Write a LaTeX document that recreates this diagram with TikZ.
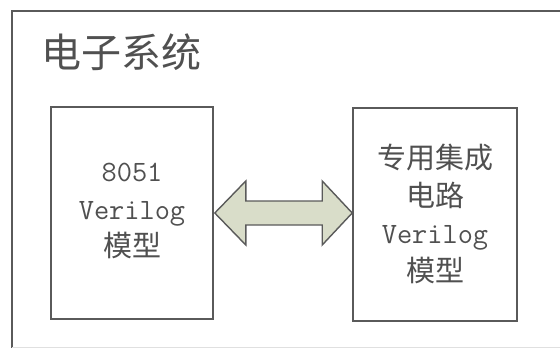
\documentclass[tikz,border=0pt]{standalone}
\usepackage{fontspec}
\newfontfamily\cjk{Noto Sans CJK SC}
\usetikzlibrary{calc}
\definecolor{linegray}{HTML}{5A5A5A}
\definecolor{textgray}{HTML}{505050}
\definecolor{arrowfill}{HTML}{D9DDC9}
\tikzset{
  modbox/.style={draw=linegray, line width=1.6pt, fill=white, inner sep=0pt},
  modtext/.style={text=textgray, align=center, font=\fontsize{29.5}{37.5}\selectfont},
}
\newcommand{\cj}[1]{{\cjk\fontsize{29}{37.5}\selectfont #1}}
\newcommand{\mo}[1]{{\ttfamily #1}}
\begin{document}
\begin{tikzpicture}[x=1pt,y=-1pt]
\useasboundingbox (0,0) rectangle (560,348);
% outer frame (cropped at right and bottom)
\draw[linegray, line width=1.8pt] (12,348) -- (12,11) -- (560,11);
\draw[black!12, line width=0.8pt] (12,347) -- (560,347);
\node[anchor=west, text=textgray, font=\cjk\fontsize{40}{42}\selectfont, inner sep=0pt] (title) at (41,52) {电子系统};
% boxes
\node[modbox, minimum width=162pt, minimum height=212pt] (L) at (132,213) {};
\node[modbox, minimum width=164pt, minimum height=213pt] (R) at (435,214.5) {};
\node[modtext] (Lt) at (132,211) {\mo{8051}\\\mo{Verilog}\\\cj{模型}};
\node[modtext] (Rt) at (435,214) {\cj{专用集成}\\\cj{电路}\\\mo{Verilog}\\\cj{模型}};
% double arrow
\coordinate (a) at ($(L.east)+(1,0)$);
\coordinate (b) at (R.west |- a);
\draw[linegray, line width=1.4pt, fill=arrowfill, line join=miter]
  (a) -- ++(31,-32) -- ++(0,20) -- ($(b)+(-30,-12)$) -- ++(0,-20) -- (b)
  -- ++(-30,32) -- ++(0,-20) -- ($(a)+(31,12)$) -- ++(0,20) -- cycle;
\end{tikzpicture}
\end{document}
